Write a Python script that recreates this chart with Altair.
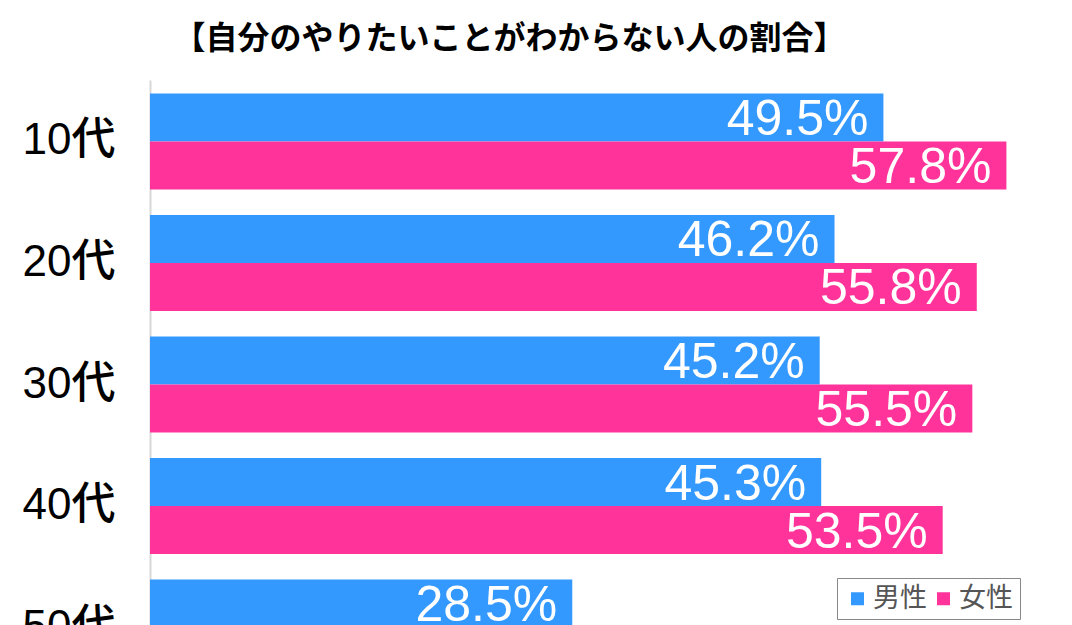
import altair as alt
import pandas as pd

ages = ["10代", "20代", "30代", "40代", "50代"]
male = [49.5, 46.2, 45.2, 45.3, 28.5]
female = [57.8, 55.8, 55.5, 53.5]  # 50代 female bar lies below the visible area
sexes = ["男性", "女性"]
colors = ["#3399ff", "#ff3399"]
title = "【自分のやりたいことがわからない人の割合】"

rows = []
for a, v in zip(ages, male):
    rows.append({"age": a, "sex": "男性", "value": v})
for a, v in zip(ages, female):
    rows.append({"age": a, "sex": "女性", "value": v})
df = pd.DataFrame(rows)
df["label"] = df["value"].map(lambda v: f"{v:.1f}%")

JP = "Noto Sans CJK JP"

y = alt.Y(
    "age:N",
    sort=ages,
    scale=alt.Scale(domain=ages, range=[0, 609], paddingInner=0.21, paddingOuter=0.111),
    axis=alt.Axis(
        title=None, ticks=False, labelPadding=35, labelFontSize=44,
        labelFont="Liberation Sans, Noto Sans CJK JP", labelFontWeight=500,
        labelColor="#000", domainColor="#d8d8d8", domainWidth=2,
    ),
)
yoff = alt.YOffset("sex:N", scale=alt.Scale(domain=sexes, paddingInner=0, paddingOuter=0))
x = alt.X("value:Q", scale=alt.Scale(domain=[0, 60]), axis=None)

bars = alt.Chart(df).mark_bar().encode(
    x=x, y=y, yOffset=yoff,
    color=alt.Color(
        "sex:N",
        scale=alt.Scale(domain=sexes, range=colors),
        legend=alt.Legend(
            title=None, orient="none", legendX=687, legendY=498, direction="horizontal",
            symbolType="square", symbolSize=169, symbolStrokeWidth=0,
            labelFontSize=27, labelFont=JP, labelColor="#555", labelOffset=2,
            columnPadding=3, padding=7, strokeColor="#888", fillColor="#fff",
        ),
    ),
)

texts = alt.Chart(df).mark_text(
    align="right", baseline="middle", dx=-15, dy=2.5, color="white",
    fontSize=50, font="Liberation Sans",
).encode(x=x, y=y, yOffset=yoff, text="label:N")

chart = (
    alt.layer(bars, texts)
    .properties(
        width=889, height=553,
        autosize="none",
        padding={"left": 142, "top": 72, "right": 10, "bottom": 0},
        title=alt.TitleParams(
            title, anchor="middle", dx=-85, offset=24, fontSize=32, font=JP,
            fontWeight="bold", color="#000",
        ),
    )
    .configure_view(stroke=None)
)

chart.save("out.html", embed_options={"renderer": "svg", "actions": False})
